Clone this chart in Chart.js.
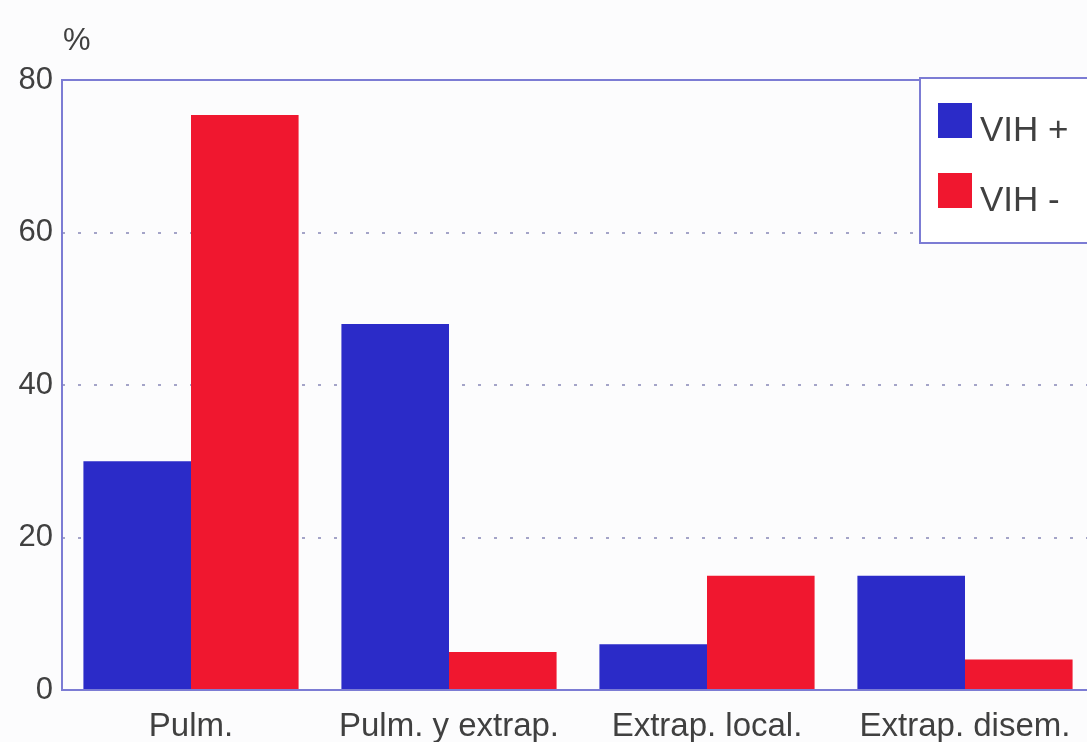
<!DOCTYPE html>
<html>
<head>
<meta charset="utf-8">
<script src="https://cdn.jsdelivr.net/npm/chart.js@4/dist/chart.umd.min.js"></script>
<style>
  html, body { margin: 0; padding: 0; background: #fcfcfd; overflow: hidden; }
  #wrap { width: 1100px; height: 742px; }
</style>
</head>
<body>
<div id="wrap"><canvas id="formasChart" width="1100" height="742"></canvas></div>
<script>
// Formas clinicas de tuberculosis segun estado VIH (%)
const categories = ['Pulm.', 'Pulm. y extrap.', 'Extrap. local.', 'Extrap. disem.'];
const vihPos = [30, 48, 6, 15];
const vihNeg = [75.4, 5, 15, 4];
const seriesNames = ['VIH +', 'VIH -'];
const yMin = 0, yMax = 80, yStep = 20;

const BLUE = '#2b2bc8';
const RED = '#f0172f';
const FRAME = '#7c7cd4';
const TEXT = '#404040';
const FONT = '"Liberation Sans", Arial, sans-serif';

// frame around plot area + "%" unit label + boxed legend in the corner
const decorations = {
  id: 'decorations',
  afterDatasetsDraw(chart) {
    const { ctx, chartArea: a } = chart;
    ctx.save();
    ctx.strokeStyle = FRAME;
    ctx.lineWidth = 2;
    ctx.strokeRect(a.left, a.top, a.right - a.left, a.bottom - a.top);

    ctx.fillStyle = TEXT;
    ctx.font = '31px ' + FONT;
    ctx.textAlign = 'left';
    ctx.textBaseline = 'alphabetic';
    ctx.fillText('%', a.left + 1, a.top - 30);

    // legend box
    const bx = 920, by = a.top - 2, bw = 200, bh = 165;
    ctx.fillStyle = '#ffffff';
    ctx.fillRect(bx, by, bw, bh);
    ctx.strokeRect(bx, by, bw, bh);
    ctx.font = '35px ' + FONT;
    chart.data.datasets.forEach((ds, i) => {
      const top = by + 25 + i * 70;
      ctx.fillStyle = ds.backgroundColor;
      ctx.fillRect(bx + 18, top, 34, 35);
      ctx.fillStyle = TEXT;
      ctx.fillText(ds.label, bx + 60, top + 38);
    });
    ctx.restore();
  }
};

new Chart(document.getElementById('formasChart'), {
  type: 'bar',
  data: {
    labels: categories,
    datasets: [
      { label: seriesNames[0], data: vihPos, backgroundColor: BLUE },
      { label: seriesNames[1], data: vihNeg, backgroundColor: RED }
    ]
  },
  options: {
    responsive: false,
    animation: false,
    layout: { padding: { top: 80, right: 6, left: 0, bottom: 0 } },
    datasets: { bar: { barPercentage: 1.0, categoryPercentage: 0.834, borderWidth: 0 } },
    plugins: { legend: { display: false }, tooltip: { enabled: false } },
    scales: {
      x: {
        grid: { display: false, drawTicks: false },
        border: { display: false },
        ticks: { color: TEXT, font: { family: FONT, size: 33 }, padding: 17, maxRotation: 0 },
        afterFit(scale) { scale.height = 52; }
      },
      y: {
        min: yMin, max: yMax,
        ticks: { stepSize: yStep, color: TEXT, font: { family: FONT, size: 31 }, padding: 9 },
        grid: {
          drawTicks: false,
          color: ctx => (ctx.tick.value === yMin || ctx.tick.value === yMax) ? 'rgba(0,0,0,0)' : '#a4a4c8',
          lineWidth: 2
        },
        border: { display: false, dash: [3, 13] },
        afterFit(scale) { scale.width = 62; }
      }
    }
  },
  plugins: [decorations]
});
</script>
</body>
</html>
